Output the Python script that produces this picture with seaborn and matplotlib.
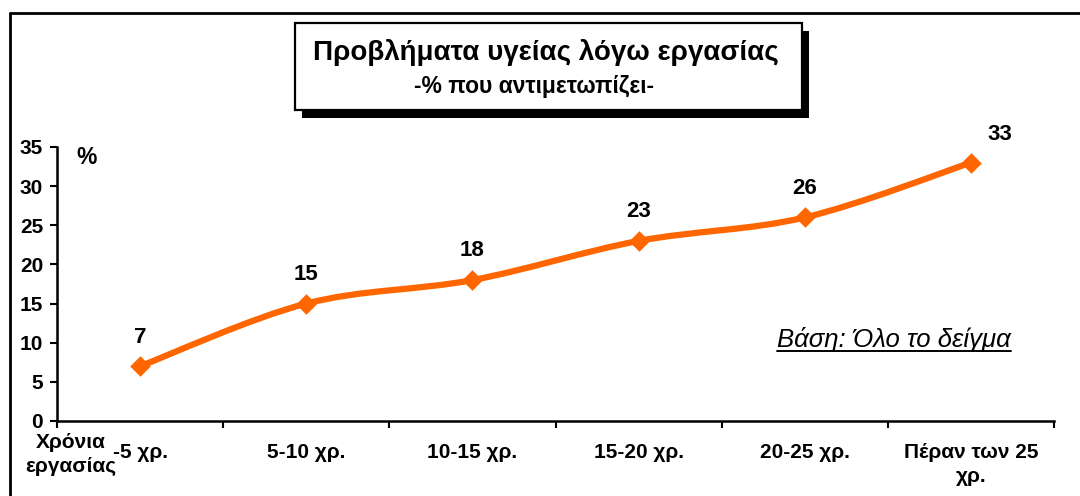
import numpy as np
import pandas as pd
import matplotlib
matplotlib.use("Agg")
import matplotlib.pyplot as plt
import seaborn as sns
from matplotlib.path import Path
from matplotlib.patches import PathPatch, Rectangle
from matplotlib.lines import Line2D

# ---------------- data ----------------
categories = ["-5 χρ.", "5-10 χρ.", "10-15 χρ.", "15-20 χρ.", "20-25 χρ.", "Πέραν των 25\nχρ."]
values = [7, 15, 18, 23, 26, 33]
y_ticks = [0, 5, 10, 15, 20, 25, 30, 35]
title = "Προβλήματα υγείας λόγω εργασίας"
subtitle = "-% που αντιμετωπίζει-"
x_axis_title = "Χρόνια\nεργασίας"
y_unit = "%"
base_note = "Βάση: Όλο το δείγμα"

ORANGE = "#FF6600"

sns.set_theme(style="white")
plt.rcParams["font.family"] = ["Liberation Sans", "DejaVu Sans"]

W, H = 1080, 496
fig = plt.figure(figsize=(W / 100, H / 100), dpi=100)
fig.patch.set_facecolor("white")

ax = fig.add_axes([57 / W, 1 - 421 / H, (1054 - 57) / W, (421 - 147) / H])
ax.set_facecolor("white")

df = pd.DataFrame({"pos": np.arange(len(values)), "value": values})

# smoothed line (Catmull-Rom as cubic Bezier through the data points)
pts = df[["pos", "value"]].to_numpy(dtype=float)
ext = np.vstack([pts[0], pts, pts[-1]])
verts = [tuple(pts[0])]
codes = [Path.MOVETO]
for i in range(1, len(ext) - 2):
    p0, p1, p2, p3 = ext[i - 1], ext[i], ext[i + 1], ext[i + 2]
    c1 = p1 + (p2 - p0) / 6.0
    c2 = p2 - (p3 - p1) / 6.0
    verts += [tuple(c1), tuple(c2), tuple(p2)]
    codes += [Path.CURVE4, Path.CURVE4, Path.CURVE4]
ax.add_patch(PathPatch(Path(verts, codes), fill=False, edgecolor=ORANGE, lw=4.5,
                       capstyle="round", joinstyle="round", zorder=2))

sns.scatterplot(data=df, x="pos", y="value", marker="D", s=110, color=ORANGE,
                edgecolor=ORANGE, linewidth=0, ax=ax, zorder=3, legend=False)

for i, v in enumerate(values):
    if i == len(values) - 1:
        off = (21, 20)
    else:
        off = (0, 21)
    ax.annotate(str(v), (i, v), xytext=off, textcoords="offset points",
                ha="center", va="center", fontsize=16, fontweight="bold", color="black")

# axes formatting
ax.set_xlim(-0.5, len(values) - 0.5)
ax.set_ylim(0, 35)
ax.set_yticks(y_ticks)
ax.set_yticklabels([str(t) for t in y_ticks])
ax.set_xticks(np.arange(-0.5, len(values), 1.0))
ax.set_xticklabels([])
ax.set_xticks(np.arange(len(values)), minor=True)
ax.set_xticklabels(categories, minor=True)
ax.set_xlabel("")
ax.set_ylabel("")
ax.grid(False)

for s in ["top", "right"]:
    ax.spines[s].set_visible(False)
for s in ["left", "bottom"]:
    ax.spines[s].set_visible(True)
    ax.spines[s].set_color("black")
    ax.spines[s].set_linewidth(1.8)

ax.tick_params(axis="y", which="major", direction="out", length=5, width=1.5,
               color="black", labelsize=15, pad=5, left=True)
ax.tick_params(axis="x", which="major", direction="out", length=5, width=1.5,
               color="black", bottom=True)
ax.tick_params(axis="x", which="minor", length=0, labelsize=15, pad=16, bottom=True)
for lab in ax.get_yticklabels() + ax.get_xticklabels(minor=True):
    lab.set_fontweight("bold")
    lab.set_color("black")
for lab in ax.get_xticklabels(minor=True):
    lab.set_multialignment("center")
    lab.set_linespacing(1.3)

# extra texts
fig.text(87 / W, 1 - 157 / H, y_unit, ha="center", va="center", fontsize=16.5,
         fontweight="bold", color="black")
fig.text(71 / W, 1 - 433 / H, x_axis_title, ha="center", va="top", fontsize=15,
         fontweight="bold", color="black", multialignment="center", linespacing=1.3)

note = fig.text(894 / W, 1 - 347 / H, base_note, ha="center", va="baseline",
                fontsize=18.5, fontstyle="italic", color="black")

# outer frame (left and top edges)
fig.add_artist(Line2D([10 / W, 10 / W], [0, 1 - 13 / H], transform=fig.transFigure,
                      color="black", lw=2))
fig.add_artist(Line2D([10 / W, 1], [1 - 13 / H, 1 - 13 / H], transform=fig.transFigure,
                      color="black", lw=2))

# title box with shadow
bx0, bx1, by0, by1 = 295, 802, 23, 110
fig.add_artist(Rectangle(((bx0 + 7) / W, 1 - (by1 + 8) / H), (bx1 - bx0) / W, (by1 - by0) / H,
                         transform=fig.transFigure, facecolor="black", edgecolor="black",
                         lw=0, zorder=5))
fig.add_artist(Rectangle((bx0 / W, 1 - by1 / H), (bx1 - bx0) / W, (by1 - by0) / H,
                         transform=fig.transFigure, facecolor="white", edgecolor="black",
                         lw=1.6, zorder=6))
fig.text(546 / W, 1 - 52 / H, title, ha="center", va="center", fontsize=20,
         fontweight="bold", color="black", zorder=7)
fig.text(534 / W, 1 - 86 / H, subtitle, ha="center", va="center", fontsize=16.5,
         fontweight="bold", color="black", zorder=7)

# underline of the base note
renderer = fig.canvas.get_renderer()
bb = note.get_window_extent(renderer)
fig.add_artist(Line2D([bb.x0 / W, bb.x1 / W], [1 - 351 / H, 1 - 351 / H],
                      transform=fig.transFigure, color="black", lw=1.4))

fig.savefig("out.png", dpi=100, facecolor="white")
